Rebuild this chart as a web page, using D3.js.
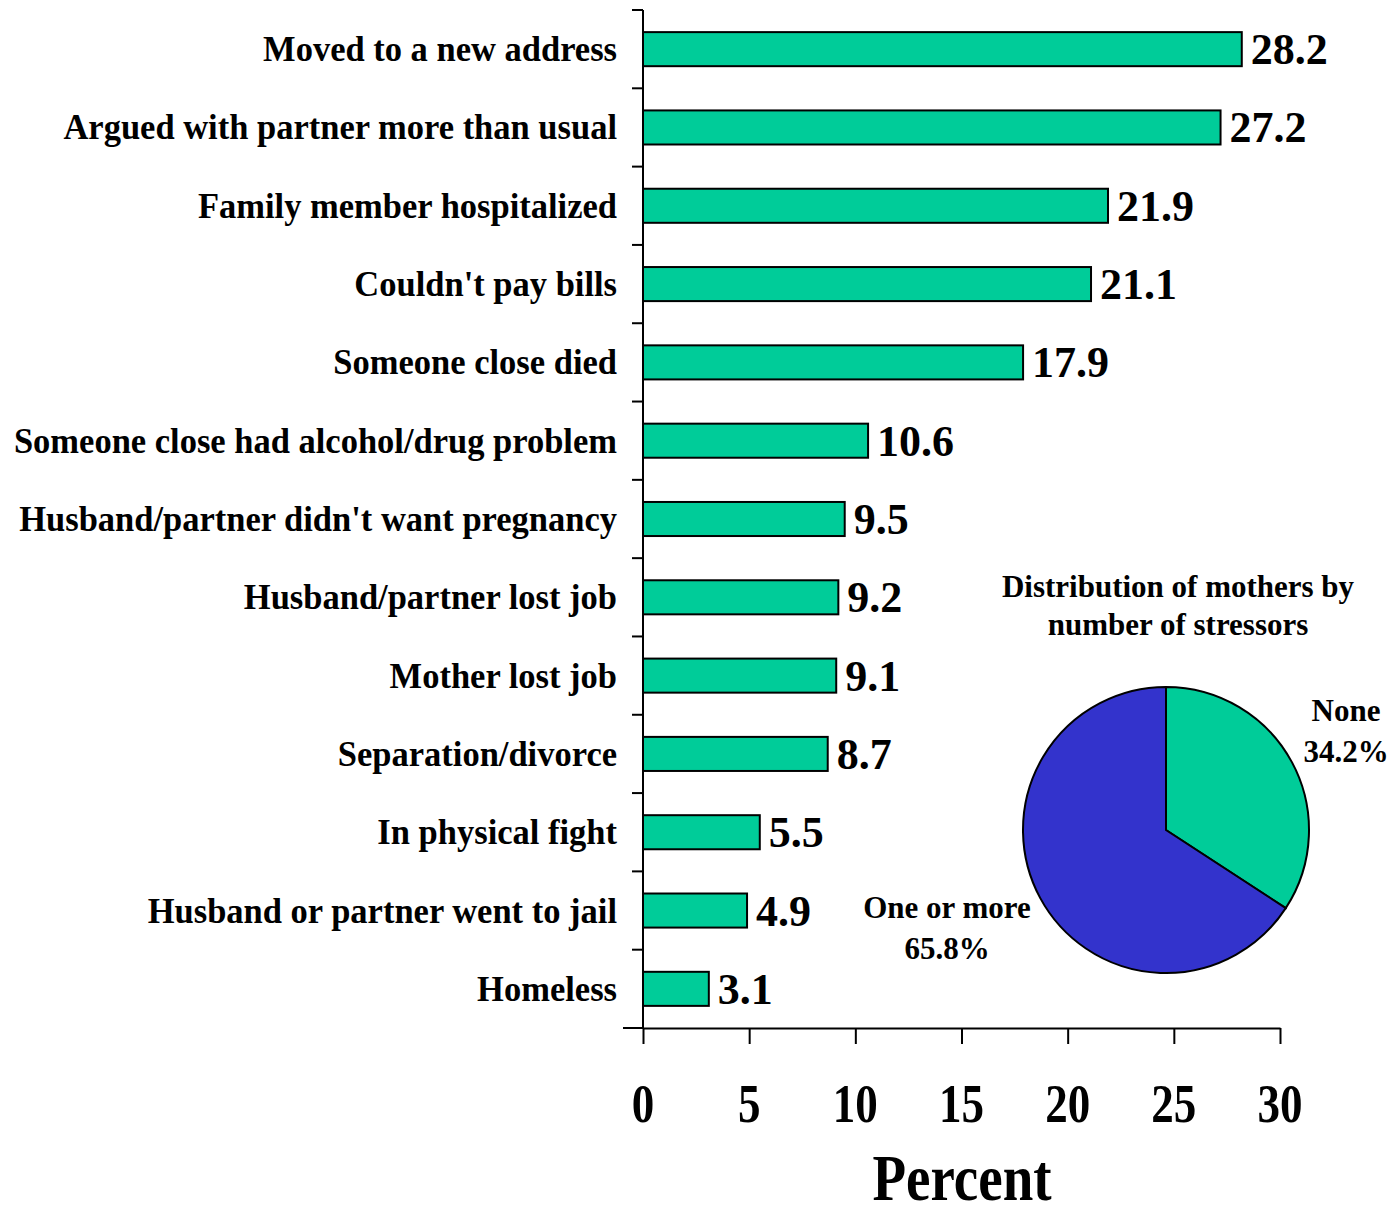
<!DOCTYPE html>
<html>
<head>
<meta charset="utf-8">
<script src="https://cdn.jsdelivr.net/npm/d3@7"></script>
<style>
  body { margin: 0; background: #fff; }
  text { font-family: "Liberation Serif", "Times New Roman", serif; font-weight: bold; fill: #000; }
</style>
</head>
<body>
<svg id="chart"></svg>
<script>
const categories = [
  "Moved to a new address",
  "Argued with partner more than usual",
  "Family member hospitalized",
  "Couldn't pay bills",
  "Someone close died",
  "Someone close had alcohol/drug problem",
  "Husband/partner didn't want pregnancy",
  "Husband/partner lost job",
  "Mother lost job",
  "Separation/divorce",
  "In physical fight",
  "Husband or partner went to jail",
  "Homeless"
];
const values = [28.2, 27.2, 21.9, 21.1, 17.9, 10.6, 9.5, 9.2, 9.1, 8.7, 5.5, 4.9, 3.1];
const xTicks = [0, 5, 10, 15, 20, 25, 30];

const pieLabels = ["None", "One or more"];
const pieValues = [34.2, 65.8];
const pieTitle = ["Distribution of mothers by", "number of stressors"];

const width = 1394, height = 1215;
const green = "#00CC99", blue = "#3333CC";

const svg = d3.select("#chart").attr("width", width).attr("height", height);

const x = d3.scaleLinear().domain([0, 30]).range([643, 1280]);
const y = d3.scaleBand().domain(categories).range([10, 1028]).paddingInner(0.565).paddingOuter(0.2825);

// stretched text helper (the original's type is a bit taller than wide)
function stretchText(sel, px, py, sy) {
  return sel.attr("transform", `translate(${px},${py}) scale(1,${sy})`);
}

// bars
svg.selectAll(".bar")
  .data(values).enter()
  .append("rect")
    .attr("class", "bar")
    .attr("x", x(0))
    .attr("y", (d, i) => y(categories[i]))
    .attr("width", d => x(d) - x(0))
    .attr("height", y.bandwidth())
    .attr("fill", green)
    .attr("stroke", "#000")
    .attr("stroke-width", 2);

// value labels
svg.selectAll(".val")
  .data(values).enter()
  .append("text")
    .attr("class", "val")
    .attr("x", d => x(d) + 9)
    .attr("y", (d, i) => y(categories[i]) + y.bandwidth() / 2 + 15)
    .style("font-size", "44px")
    .text(d => d.toFixed(1));

// category labels
svg.selectAll(".cat")
  .data(categories).enter()
  .append("text")
    .attr("class", "cat")
    .each(function(d) {
      stretchText(d3.select(this), 617, y(d) + y.bandwidth() / 2 + 12, 1.06);
    })
    .attr("text-anchor", "end")
    .style("font-size", "34.5px")
    .text(d => d);

// y axis line + ticks at band boundaries
svg.append("line")
  .attr("x1", x(0)).attr("x2", x(0))
  .attr("y1", 10).attr("y2", 1028)
  .attr("stroke", "#000").attr("stroke-width", 2);
const bounds = d3.range(categories.length + 1).map(i => 10 + i * (1018 / categories.length));
svg.selectAll(".ytick")
  .data(bounds).enter()
  .append("line")
    .attr("x1", (d, i) => i === categories.length ? 623 : 632)
    .attr("x2", x(0))
    .attr("y1", d => d).attr("y2", d => d)
    .attr("stroke", "#000").attr("stroke-width", 2);

// x axis
const xAxis = svg.append("g")
  .attr("transform", "translate(0,1028)")
  .call(d3.axisBottom(x).tickValues(xTicks).tickSize(16).tickFormat("").tickSizeOuter(0));
xAxis.select(".domain").attr("stroke", "#000").attr("stroke-width", 2);
xAxis.selectAll(".tick line").attr("stroke", "#000").attr("stroke-width", 2);

svg.selectAll(".xlab")
  .data(xTicks).enter()
  .append("text")
    .attr("class", "xlab")
    .each(function(d) { stretchText(d3.select(this), x(d), 1122, 1.22); })
    .attr("text-anchor", "middle")
    .style("font-size", "45px")
    .text(d => d);

stretchText(svg.append("text"), 962, 1200, 1.2)
  .attr("text-anchor", "middle")
  .style("font-size", "55px")
  .text("Percent");

// pie inset
const cx = 1166, cy = 830, r = 143;
const pie = d3.pie().sort(null).value(d => d);
const arc = d3.arc().innerRadius(0).outerRadius(r);
svg.append("g")
  .attr("transform", `translate(${cx},${cy})`)
  .selectAll("path")
  .data(pie(pieValues)).enter()
  .append("path")
    .attr("d", arc)
    .attr("fill", (d, i) => i === 0 ? green : blue)
    .attr("stroke", "#000")
    .attr("stroke-width", 2);

svg.selectAll(".ptitle")
  .data(pieTitle).enter()
  .append("text")
    .attr("class", "ptitle")
    .attr("x", 1178)
    .attr("y", (d, i) => 597 + i * 38)
    .attr("text-anchor", "middle")
    .style("font-size", "31px")
    .text(d => d);

const pieLabelPos = [[1346, 721], [947, 918]];
pieLabels.forEach((lab, i) => {
  const t = svg.append("text")
    .attr("x", pieLabelPos[i][0])
    .attr("y", pieLabelPos[i][1])
    .attr("text-anchor", "middle")
    .style("font-size", "31px");
  t.append("tspan").attr("x", pieLabelPos[i][0]).text(lab);
  t.append("tspan").attr("x", pieLabelPos[i][0]).attr("dy", 41).text(pieValues[i].toFixed(1) + "%");
});
</script>
</body>
</html>
